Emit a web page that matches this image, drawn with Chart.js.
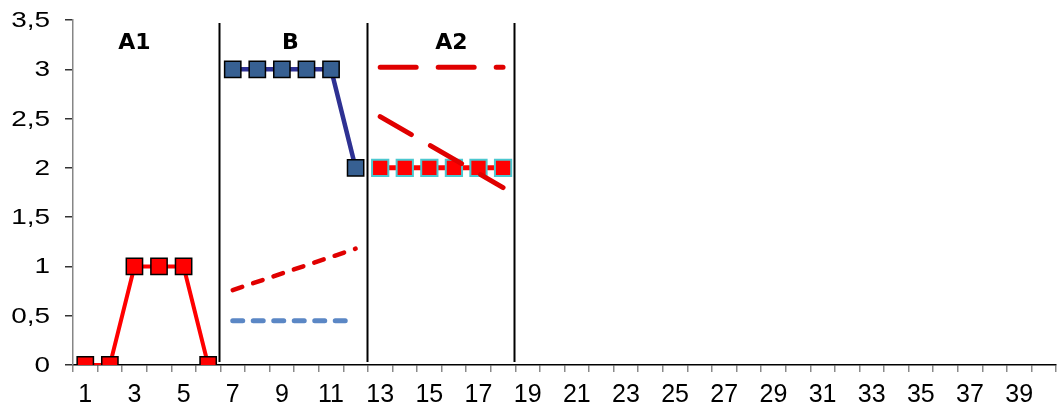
<!DOCTYPE html>
<html>
<head>
<meta charset="utf-8">
<script src="https://cdn.jsdelivr.net/npm/chart.js@4.4.1/dist/chart.umd.min.js"></script>
<style>
  html, body { margin: 0; padding: 0; background: #fff; }
  #wrap { width: 1057px; height: 410px; }
</style>
</head>
<body>
<div id="wrap"><canvas id="chart" width="1057" height="410"></canvas></div>
<script>
// sessions on the x axis
const sessions = ['1','2','3','4','5','6','7','8','9','10','11','12','13','14','15','16','17','18','19','20',
  '21','22','23','24','25','26','27','28','29','30','31','32','33','34','35','36','37','38','39','40'];
const yTickLabels = ['0','0,5','1','1,5','2','2,5','3','3,5'];

// phases
const phaseNames = ['A1', 'B', 'A2'];
const phaseEnds = ['6', '12', '18'];

// observed values per phase
const a1Sessions = ['1','2','3','4','5','6'];
const a1Values = [0, 0, 1, 1, 1, 0];
const bSessions = ['7','8','9','10','11','12'];
const bValues = [3, 3, 3, 3, 3, 2];
const a2Sessions = ['13','14','15','16','17','18'];
const a2Values = [2, 2, 2, 2, 2, 2];

// trend and level lines
const bTrendSessions = ['7', '12'];
const bTrendValues = [0.76, 1.18];
const bLevelValues = [0.45, 0.45, 0.45, 0.45, 0.45, 0.45];
const a2LevelValues = [3.02, 3.02, 3.02, 3.02, 3.02, 3.02];
const a2TrendSessions = ['13', '18'];
const a2TrendValues = [2.52, 1.80];

const pts = (xs, ys) => xs.map((x, i) => ({ x: x, y: ys[i] }));

// phase change lines, phase titles, and the (wide) y labels
const phasePlugin = {
  id: 'phases',
  beforeDatasetsDraw(chart, args, opts) {
    const { ctx, scales: { x, y } } = chart;
    ctx.save();
    ctx.strokeStyle = '#000';
    ctx.lineWidth = 2;
    phaseEnds.forEach(s => {
      const px = Math.round(x.getPixelForValue(sessions.indexOf(s) + 0.5)) - 0.5;
      ctx.beginPath();
      ctx.moveTo(px, y.top + 3);
      ctx.lineTo(px, y.bottom - 3);
      ctx.stroke();
    });
    ctx.fillStyle = '#000';
    ctx.font = 'bold 22px "DejaVu Sans"';
    ctx.textAlign = 'center';
    ctx.textBaseline = 'middle';
    phaseNames.forEach((n, i) => {
      ctx.fillText(n, x.getPixelForValue(opts.labelAt[i]), y.top + 23);
    });
    ctx.restore();
  },
  afterDraw(chart, args, opts) {
    const { ctx, scales: { y } } = chart;
    const sx = opts.yStretch;
    ctx.save();
    ctx.fillStyle = '#000';
    ctx.font = '22px "Liberation Sans", Arial';
    ctx.textAlign = 'right';
    ctx.textBaseline = 'middle';
    ctx.scale(sx, 1);
    y.ticks.forEach((t, i) => {
      ctx.fillText(yTickLabels[i], opts.yLabelRight / sx, y.getPixelForValue(t.value) + 1);
    });
    ctx.restore();
  }
};

const red = '#FF0000';
const darkRed = '#E00000';

new Chart(document.getElementById('chart'), {
  type: 'line',
  data: {
    labels: sessions,
    datasets: [
      {
        data: pts(a2TrendSessions, a2TrendValues),
        borderColor: darkRed, borderWidth: 5, borderDash: [36, 22], borderCapStyle: 'round',
        pointRadius: 0, tension: 0
      },
      {
        data: pts(a2Sessions, a2LevelValues),
        borderColor: darkRed, borderWidth: 5, borderDash: [36, 22], borderCapStyle: 'round',
        pointRadius: 0, tension: 0
      },
      {
        data: pts(bTrendSessions, bTrendValues),
        borderColor: darkRed, borderWidth: 4.5, borderDash: [10, 11.5], borderCapStyle: 'round',
        pointRadius: 0, tension: 0
      },
      {
        data: pts(bSessions, bLevelValues),
        borderColor: '#5B87C5', borderWidth: 5, borderDash: [10, 10.5], borderCapStyle: 'round',
        pointRadius: 0, tension: 0
      },
      {
        data: pts(a1Sessions, a1Values),
        borderColor: red, borderWidth: 4,
        pointStyle: 'rect', pointRadius: 11.5, pointBackgroundColor: red,
        pointBorderColor: '#000', pointBorderWidth: 1.5, tension: 0
      },
      {
        data: pts(bSessions, bValues),
        borderColor: '#2E3192', borderWidth: 4.5,
        pointStyle: 'rect', pointRadius: 11.5, pointBackgroundColor: '#376092',
        pointBorderColor: '#000', pointBorderWidth: 1.5, tension: 0
      },
      {
        data: pts(a2Sessions, a2Values),
        borderColor: red, borderWidth: 5,
        pointStyle: 'rect', pointRadius: 11.5, pointBackgroundColor: red,
        pointBorderColor: '#4BC8D0', pointBorderWidth: 2, tension: 0
      }
    ]
  },
  options: {
    responsive: false,
    animation: false,
    layout: { autoPadding: false, padding: { top: 20, right: 1, left: 0, bottom: 0 } },
    plugins: {
      legend: { display: false },
      tooltip: { enabled: false },
      phases: { labelAt: [2.0, 8.35, 14.9], yStretch: 1.27, yLabelRight: 50 }
    },
    scales: {
      x: {
        type: 'category',
        offset: true,
        afterFit(scale) { scale.height = 45; scale.paddingLeft = 0; scale.paddingRight = 0; },
        border: { color: '#000', width: 1.5 },
        grid: { offset: true, drawOnChartArea: false, tickLength: 7, color: '#8a8a8a', lineWidth: 1.5 },
        ticks: {
          autoSkip: false, maxRotation: 0, padding: 8, color: '#000',
          font: { family: '"Liberation Sans", Arial', size: 25 },
          callback: (v, i) => (i % 2 === 0 ? sessions[i] : '')
        }
      },
      y: {
        min: 0, max: 3.5,
        afterFit(scale) { scale.width = 73; scale.paddingTop = 0; scale.paddingBottom = 0; },
        border: { color: '#868686', width: 1.5 },
        grid: { drawOnChartArea: false, tickLength: 8, color: '#333', lineWidth: 1.5 },
        ticks: { stepSize: 0.5, display: false }
      }
    }
  },
  plugins: [phasePlugin]
});
</script>
</body>
</html>
